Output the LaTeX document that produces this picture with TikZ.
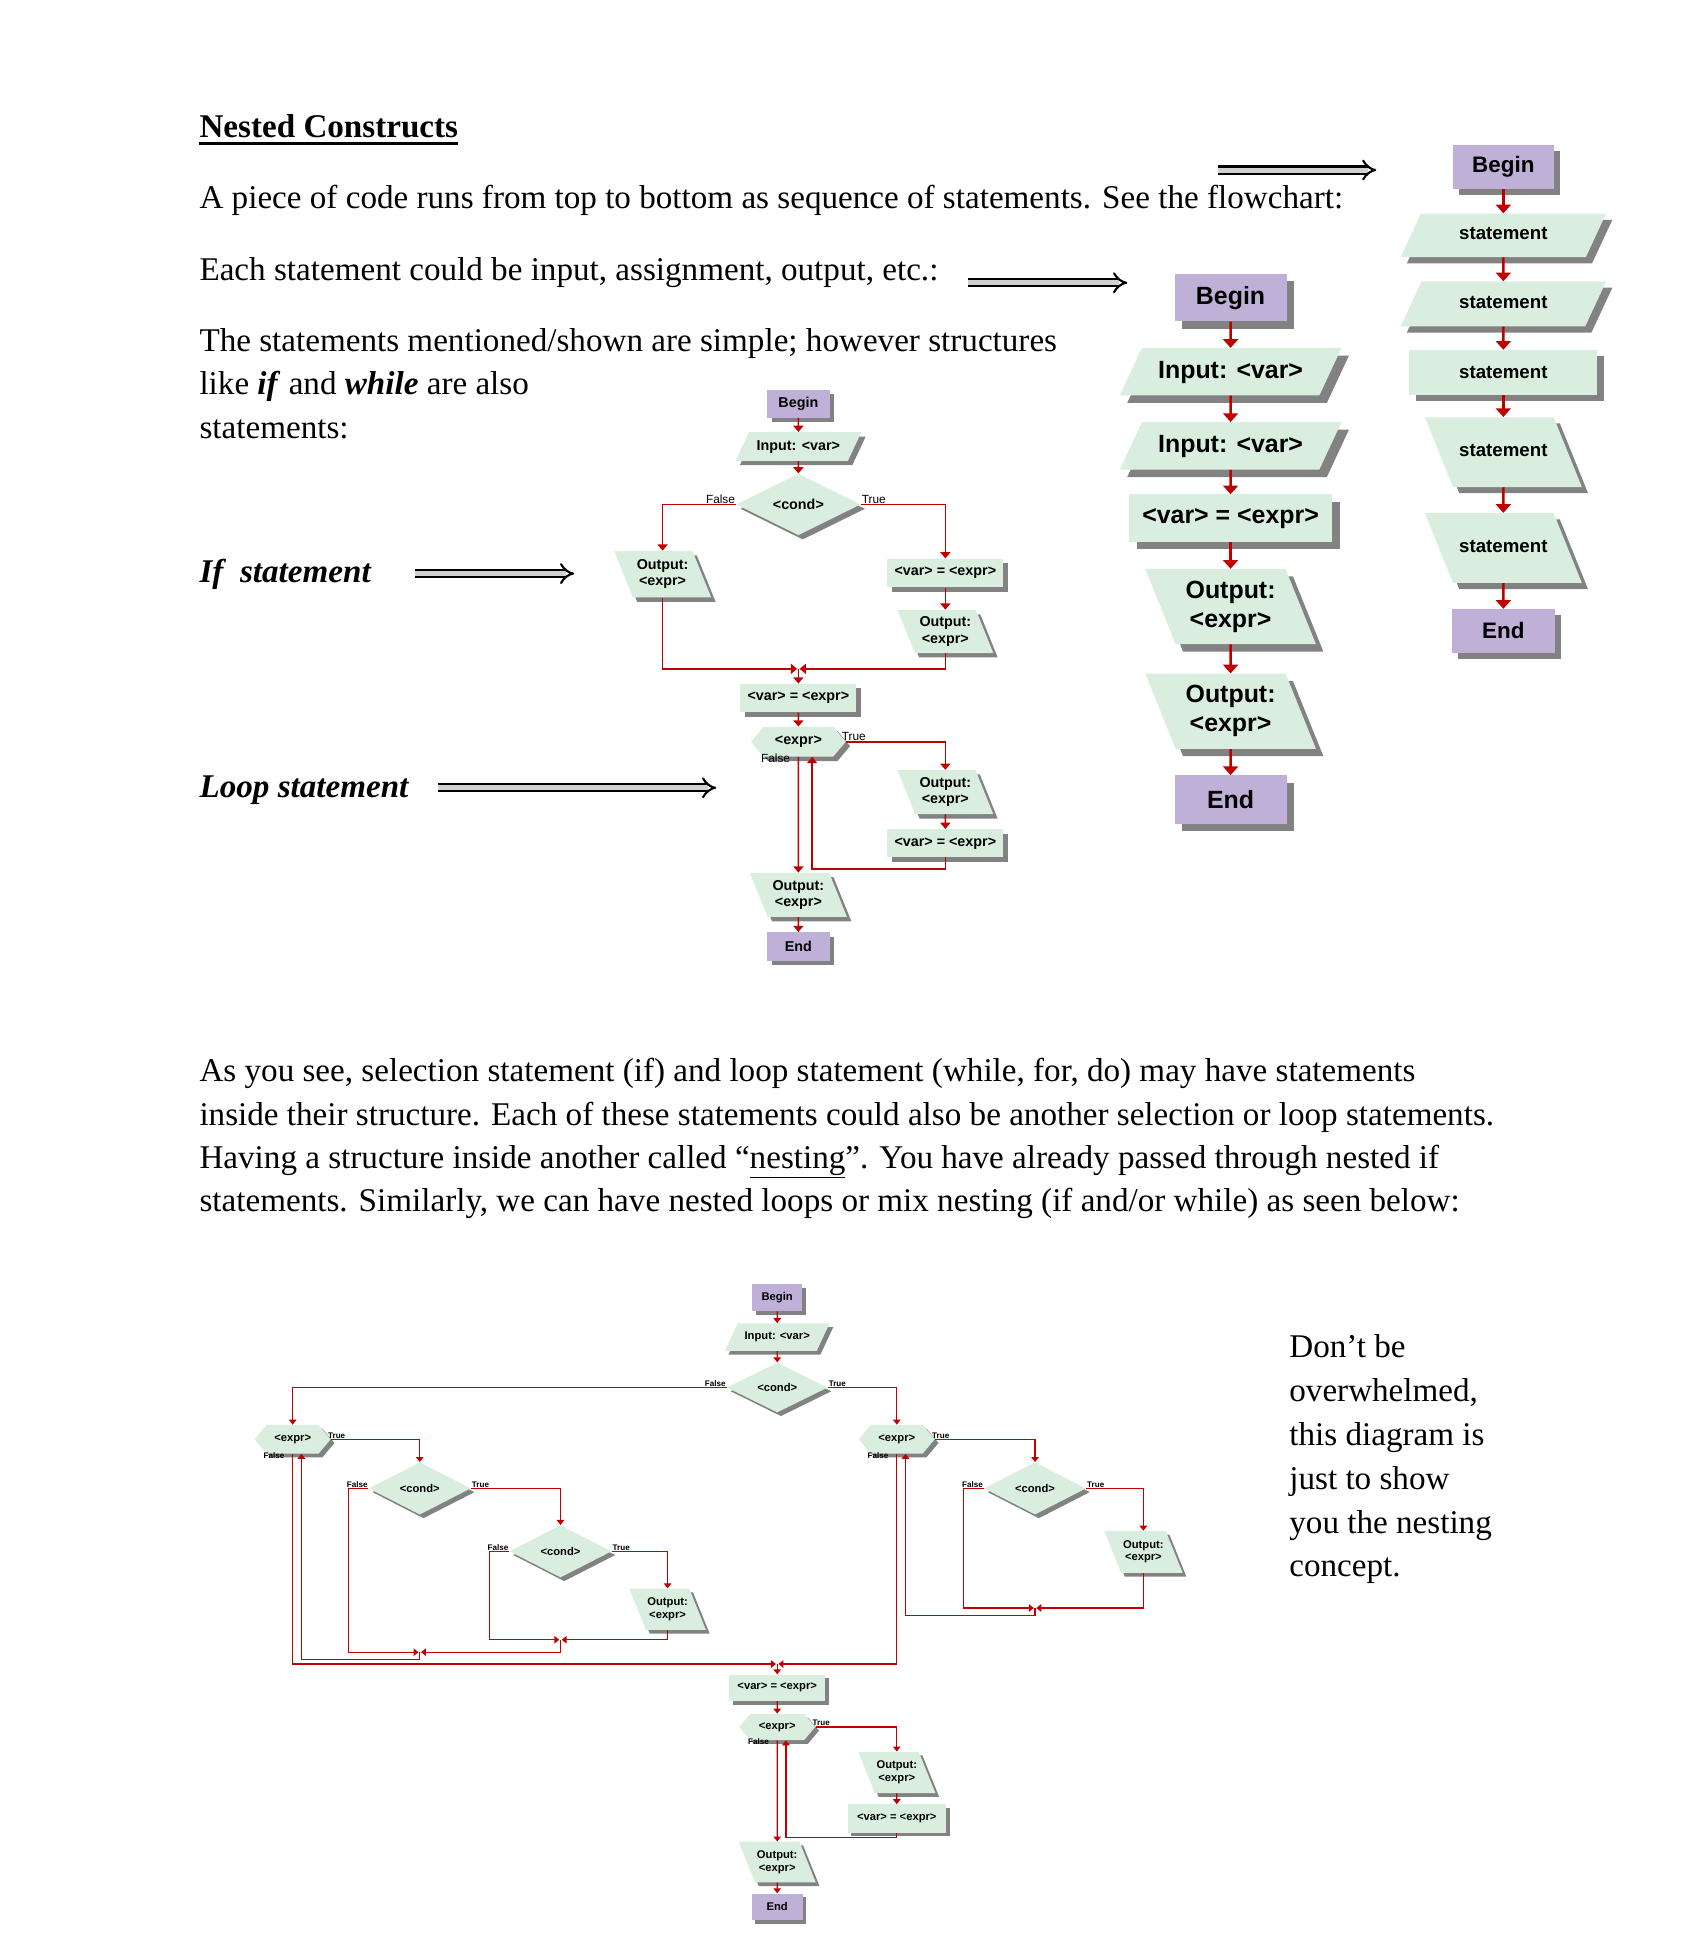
\documentclass[tikz,border=0pt]{standalone}
\usepackage{fontspec}
\setmainfont{Liberation Serif}
\newfontfamily\chartfont{Liberation Sans}
\usetikzlibrary{shapes.geometric,shapes.symbols,shadows,arrows.meta,positioning}

\definecolor{beginfill}{HTML}{BEB0D6}
\definecolor{boxfill}{HTML}{D9EEDE}
\definecolor{boxshadow}{HTML}{828282}
\definecolor{flowred}{HTML}{C00000}

\begin{document}
\begin{tikzpicture}[x=1pt, y=-1pt,
	body/.style={anchor=base west, inner sep=0pt, font=\fontsize{26.6}{32}\selectfont},
	seqtext/.style={font=\chartfont\bfseries\fontsize{15}{17}\selectfont},
	bigtext/.style={font=\chartfont\bfseries\fontsize{20}{23}\selectfont},
	midtext/.style={font=\chartfont\bfseries\fontsize{11.5}{13}\selectfont},
	smalltext/.style={font=\chartfont\bfseries\fontsize{9}{10}\selectfont},
	boxlook/.style={fill=boxfill, draw=none, inner sep=0pt, align=center,
		drop shadow={shadow xshift=#1, shadow yshift=-#1, fill=boxshadow, opacity=1}},
	term/.style={boxlook=#1, fill=beginfill, rectangle},
	proc/.style={boxlook=#1, rectangle},
	inbox/.style={boxlook=#1, trapezium, trapezium left angle=65, trapezium right angle=115, trapezium stretches body=true},
	outbox/.style={boxlook=#1, trapezium, trapezium left angle=112, trapezium right angle=68, trapezium stretches body=true},
	cond/.style={boxlook=#1, diamond},
	loopbox/.style={boxlook=#1, signal, signal to=east and west, signal pointer angle=100},
	bigflow/.style={draw=flowred, line width=2pt, -{Triangle[length=7pt, width=12pt]}},
	flow/.style={draw=flowred, line width=1.3pt, -{Triangle[length=5pt, width=8pt]}},
	smallflow/.style={draw=flowred, line width=1pt, -{Triangle[length=4pt, width=6pt]}},
	lbl/.style={font=\chartfont\fontsize{9.5}{10}\selectfont, inner sep=0.5pt},
	smalllbl/.style={font=\chartfont\bfseries\fontsize{6.5}{7}\selectfont, inner sep=0.5pt},
	pointer/.style={line width=1.7pt, double=gray!35, double distance=4pt, -{Implies}}]

	\useasboundingbox (0,0) rectangle (1358,1564);

	% text
	\node[body] (title) at (160,110.5) {\textbf{Nested Constructs}};
	\draw[line width=2.5pt] ([yshift=-5pt]title.base west) -- ([yshift=-5pt]title.base east);
	\node[body] (t1) at (160,167.3) {A piece of code runs from top to bottom as sequence of statements. See the flowchart:};
	\node[body] (t2) at (160,225.3) {Each statement could be input, assignment, output, etc.:};
	\node[body] (t3) at (160,282.3) {The statements mentioned/shown are simple; however structures};
	\node[body] (t4) at (160,317.1) {like \textbf{\textit{if}} and \textbf{\textit{while}} are also};
	\node[body] (t5) at (160,351.9) {statements:};
	\node[body] (ifnote) at (160,467.5) {\textbf{\textit{If\ \ statement}}};
	\node[body] (loopnote) at (160,640) {\textbf{\textit{Loop statement}}};
	\node[body] (p1) at (160,868.5) {As you see, selection statement (if) and loop statement (while, for, do) may have statements};
	\node[body] (p2) at (160,903.5) {inside their structure. Each of these statements could also be another selection or loop statements.};
	\node[body] (p3) at (160,938) {Having a structure inside another called “\underline{nesting}”. You have already passed through nested if};
	\node[body] (p4) at (160,972.5) {statements. Similarly, we can have nested loops or mix nesting (if and/or while) as seen below:};
	\node[body] (n1) at (1035,1089.7) {Don’t be};
	\node[body] (n2) at (1035,1125.3) {overwhelmed,};
	\node[body] (n3) at (1035,1160.6) {this diagram is};
	\node[body] (n4) at (1035,1195.7) {just to show};
	\node[body] (n5) at (1035,1231) {you the nesting};
	\node[body] (n6) at (1035,1265.8) {concept.};

	\coordinate (ptrA) at (978,136.5);   \coordinate (ptrB) at (1105,136.5);
	\coordinate (ptrC) at (777,227);     \coordinate (ptrD) at (905,227);
	\coordinate (ptrE) at (333,460.5);   \coordinate (ptrF) at (461,460.5);
	\coordinate (ptrG) at (352,632.5);   \coordinate (ptrH) at (575,632.5);
	\draw[pointer] (ptrA) -- (ptrB);
	\draw[pointer] (ptrC) -- (ptrD);
	\draw[pointer] (ptrE) -- (ptrF);
	\draw[pointer] (ptrG) -- (ptrH);

	% sequence
	\node[term=5pt, font=\chartfont\bfseries\fontsize{18}{20}\selectfont, minimum width=81pt, minimum height=35pt] (sbegin) at (1207,134) {Begin};
	\node[inbox=5pt, seqtext, text height=11pt, text depth=4pt, inner ysep=10pt, minimum width=165pt] (s1) at (1207,189) {statement};
	\node[inbox=5pt, seqtext, text height=11pt, text depth=4pt, inner ysep=10.5pt, minimum width=165pt] (s2) at (1207,244) {statement};
	\node[proc=5pt, seqtext, minimum width=151pt, minimum height=36pt] (s3) at (1207,299) {statement};
	\node[outbox=5pt, seqtext, text height=11pt, text depth=4pt, inner ysep=20.5pt, minimum width=126pt] (s4) at (1207,363) {statement};
	\node[outbox=5pt, seqtext, text height=11pt, text depth=4pt, inner ysep=20.5pt, minimum width=126pt] (s5) at (1207,440) {statement};
	\node[term=5pt, font=\chartfont\bfseries\fontsize{18}{20}\selectfont, minimum width=83pt, minimum height=35pt] (send) at (1207,506.5) {End};
	\foreach \a/\b in {sbegin/s1, s1/s2, s2/s3, s3/s4, s4/s5, s5/send}
		\draw[bigflow] (\a) -- (\b);

	% statements
	\node[term=6pt, bigtext, minimum width=90pt, minimum height=38pt] (mbegin) at (988,239) {Begin};
	\node[inbox=6pt, bigtext, text height=15pt, text depth=5pt, inner ysep=9pt, minimum width=178pt] (m1) at (988,298.5) {Input: <var>};
	\node[inbox=6pt, bigtext, text height=15pt, text depth=5pt, inner ysep=9pt, minimum width=178pt] (m2) at (988,358) {Input: <var>};
	\node[proc=6pt, bigtext, minimum width=163pt, minimum height=38pt] (m3) at (988,416) {<var> = <expr>};
	\node[outbox=6pt, bigtext, inner ysep=9.6pt, minimum width=137pt] (m4) at (988,487) {Output:\\<expr>};
	\node[outbox=6pt, bigtext, inner ysep=9.6pt, minimum width=137pt] (m5) at (988,571) {Output:\\<expr>};
	\node[term=6pt, bigtext, minimum width=90pt, minimum height=39pt] (mend) at (988,642) {End};
	\foreach \a/\b in {mbegin/m1, m1/m2, m2/m3, m3/m4, m4/m5, m5/mend}
		\draw[bigflow] (\a) -- (\b);

	% if and loop
	\node[term=3.5pt, midtext, minimum width=50pt, minimum height=22.5pt] (ibegin) at (641,324) {Begin};
	\node[inbox=3.5pt, midtext, text height=8.6pt, text depth=2.9pt, inner ysep=5.75pt, minimum width=101pt] (iinput) at (641,358.5) {Input: <var>};
	\node[cond=3.5pt, midtext, minimum width=100pt, minimum height=47pt] (icond) at (641,405) {<cond>};
	\node[outbox=3.5pt, midtext, inner ysep=7pt, minimum width=78pt] (ifalse) at (532,461) {Output:\\<expr>};
	\node[proc=3.5pt, midtext, minimum width=93pt, minimum height=23pt] (itrue) at (759,460) {<var> = <expr>};
	\node[outbox=3.5pt, midtext, inner ysep=5.6pt, minimum width=77pt] (itrueout) at (759,507) {Output:\\<expr>};
	\coordinate (ijoin) at (641,537);
	\node[proc=3.5pt, midtext, minimum width=93pt, minimum height=23pt] (lset) at (641,560.5) {<var> = <expr>};
	\node[loopbox=3.5pt, midtext, minimum width=76pt, minimum height=24pt] (lexpr) at (641,595.5) {<expr>};
	\node[outbox=3.5pt, midtext, inner ysep=6pt, minimum width=77pt] (lbodyout) at (759,636) {Output:\\<expr>};
	\node[proc=3.5pt, midtext, minimum width=93pt, minimum height=22.5pt] (lbodyset) at (759,677) {<var> = <expr>};
	\node[outbox=3.5pt, midtext, inner ysep=6pt, minimum width=78pt] (lout) at (641,718.5) {Output:\\<expr>};
	\node[term=3.5pt, midtext, minimum width=50pt, minimum height=23pt] (lend) at (641,760) {End};

	\node[lbl, anchor=south east] (ifl) at (icond.west) {False};
	\node[lbl, anchor=south west] (itl) at (icond.east) {True};
	\node[lbl, anchor=south west] (ltl) at ([xshift=-4pt]lexpr.east) {True};
	\node[lbl, anchor=north east] (lfl) at ([xshift=-6pt,yshift=3pt]lexpr.south) {False};

	\draw[flow] (ibegin) -- (iinput);
	\draw[flow] (iinput) -- (icond);
	\draw[flow] (icond.west) -| (ifalse.north);
	\draw[flow] (icond.east) -| (itrue.north);
	\draw[flow] (itrue) -- (itrueout);
	\draw[flow, shorten >=1pt] (ifalse.south) |- (ijoin);
	\draw[flow, shorten >=1pt] (itrueout.south) |- (ijoin);
	\draw[flow] (ijoin) -- (lset);
	\draw[flow] (lset) -- (lexpr);
	\draw[flow] (lexpr.east) -| (lbodyout.north);
	\draw[flow] (lbodyout) -- (lbodyset);
	\draw[flow] (lbodyset.south) -- ++(0,9) -| ([xshift=11pt]lexpr.south);
	\draw[flow] (lexpr.south) -- (lout.north);
	\draw[flow] (lout) -- (lend);

	% nested
	\node[term=3pt, smalltext, minimum width=40pt, minimum height=21.5pt] (nbegin) at (624,1042) {Begin};
	\node[inbox=3pt, smalltext, text height=6.7pt, text depth=2.3pt, inner ysep=6.5pt, minimum width=84pt] (ninput) at (624,1073.5) {Input: <var>};
	\node[cond=3pt, smalltext, minimum width=81pt, minimum height=40pt] (ncond) at (624,1114) {<cond>};
	\node[loopbox=3pt, smalltext, minimum width=61pt, minimum height=23pt] (nloopa) at (235,1155.5) {<expr>};
	\node[loopbox=3pt, smalltext, minimum width=61pt, minimum height=23pt] (nloopb) at (720,1155.5) {<expr>};
	\node[cond=3pt, smalltext, minimum width=82pt, minimum height=42pt] (ncondb) at (337,1195) {<cond>};
	\node[cond=3pt, smalltext, minimum width=82pt, minimum height=42pt] (ncondc) at (450,1245.5) {<cond>};
	\node[outbox=3pt, smalltext, inner ysep=7.5pt, minimum width=61.5pt] (noutc) at (536,1292) {Output:\\<expr>};
	\node[cond=3pt, smalltext, minimum width=82pt, minimum height=42pt] (ncondd) at (831,1195) {<cond>};
	\node[outbox=3pt, smalltext, inner ysep=7.75pt, minimum width=63pt] (noutd) at (918,1246) {Output:\\<expr>};
	\coordinate (njoinc) at (450,1316.5);
	\coordinate (njoinb) at (337,1326.5);
	\coordinate (njoind) at (831,1291);
	\coordinate (njoina) at (624,1336);
	\node[proc=3pt, smalltext, minimum width=77.5pt, minimum height=21pt] (nset) at (624,1355) {<var> = <expr>};
	\node[loopbox=3pt, smalltext, minimum width=61pt, minimum height=21pt] (nloop) at (624,1386.5) {<expr>};
	\node[outbox=3pt, smalltext, inner ysep=7.5pt, minimum width=62pt] (nbodyout) at (720,1423) {Output:\\<expr>};
	\node[proc=3pt, smalltext, minimum width=79pt, minimum height=22.5pt] (nbodyset) at (720,1460) {<var> = <expr>};
	\node[outbox=3pt, smalltext, inner ysep=7.25pt, minimum width=62pt] (nout) at (624,1495) {Output:\\<expr>};
	\node[term=3pt, smalltext, minimum width=41pt, minimum height=21.5pt] (nend) at (624,1531) {End};

	\foreach \c in {ncond, ncondb, ncondc, ncondd} {
		\node[smalllbl, anchor=south east] (\c-f) at (\c.west) {False};
		\node[smalllbl, anchor=south west] (\c-t) at (\c.east) {True};
	}
	\foreach \c in {nloopa, nloopb, nloop} {
		\node[smalllbl, anchor=south west] (\c-t) at ([xshift=-3pt]\c.east) {True};
		\node[smalllbl, anchor=north east] (\c-f) at ([xshift=-6pt,yshift=2pt]\c.south) {False};
	}

	\draw[smallflow] (nbegin) -- (ninput);
	\draw[smallflow] (ninput) -- (ncond);
	\draw[smallflow] (ncond.west) -| (nloopa.north);
	\draw[smallflow] (ncond.east) -| (nloopb.north);
	\draw[smallflow] (nloopa.east) -| (ncondb.north);
	\draw[smallflow] (ncondb.east) -| (ncondc.north);
	\draw[smallflow] (ncondc.east) -| (noutc.north);
	\draw[smallflow, shorten >=1pt] (ncondc.west) -- ++(-16,0) |- (njoinc);
	\draw[smallflow, shorten >=1pt] (noutc.south) |- (njoinc);
	\draw[smallflow, shorten >=1pt] (njoinc) -- ++(0,10) -- (njoinb);
	\draw[smallflow, shorten >=1pt] (ncondb.west) -- ++(-16,0) |- (njoinb);
	\draw[smallflow] (njoinb) -- ++(0,6) -| ([xshift=7pt]nloopa.south);
	\draw[smallflow, shorten >=1pt] (nloopa.south) |- (njoina);
	\draw[smallflow] (nloopb.east) -| (ncondd.north);
	\draw[smallflow] (ncondd.east) -| (noutd.north);
	\draw[smallflow, shorten >=1pt] (ncondd.west) -- ++(-16,0) |- (njoind);
	\draw[smallflow, shorten >=1pt] (noutd.south) |- (njoind);
	\draw[smallflow] (njoind) -- ++(0,6) -| ([xshift=7pt]nloopb.south);
	\draw[smallflow, shorten >=1pt] (nloopb.south) |- (njoina);
	\draw[smallflow] (njoina) -- (nset);
	\draw[smallflow] (nset) -- (nloop);
	\draw[smallflow] (nloop.east) -| (nbodyout.north);
	\draw[smallflow] (nbodyout) -- (nbodyset);
	\draw[smallflow] (nbodyset.south) -- ++(0,4) -| ([xshift=7pt]nloop.south);
	\draw[smallflow] (nloop.south) -- (nout.north);
	\draw[smallflow] (nout) -- (nend);
\end{tikzpicture}
\end{document}
